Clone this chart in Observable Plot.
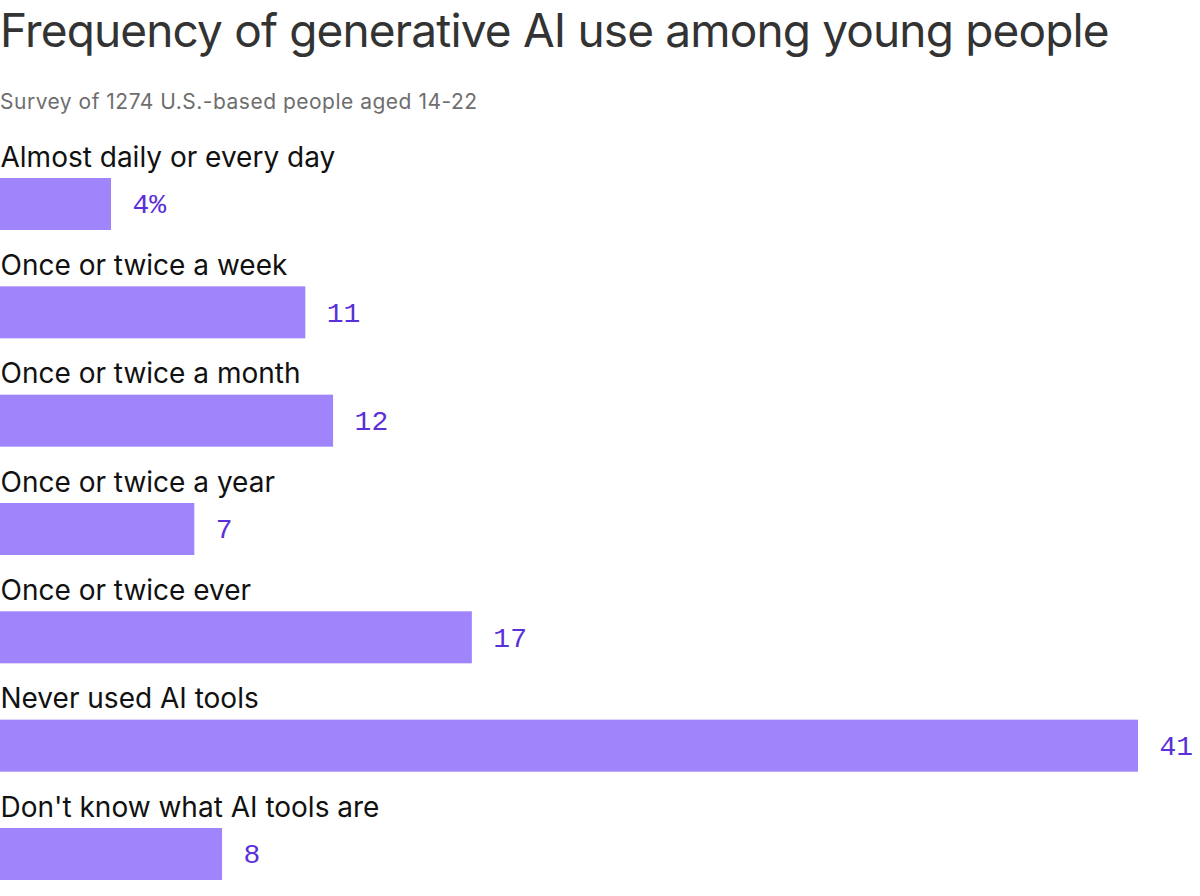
<!DOCTYPE html>
<html>
<head>
<meta charset="utf-8">
<script src="https://cdn.jsdelivr.net/npm/d3@7"></script>
<script src="https://cdn.jsdelivr.net/npm/@observablehq/plot@0.6"></script>
<style>
  body { margin: 0; background: #fff; font-family: Inter, "Liberation Sans", sans-serif; }
  #title { font-size: 46px; line-height: 60px; height: 62px; padding-top: 0px; box-sizing: border-box; color: #333; margin: 0; white-space: nowrap; letter-spacing: -0.85px; }
  #subtitle { font-size: 21px; line-height: 24px; height: 24px; margin-top: 28px; color: #6e6e6e; letter-spacing: 0.5px; white-space: nowrap; }
  #chart { margin-top: 6px; }
  svg { display: block; }
</style>
</head>
<body>
<div id="title">Frequency of generative AI use among young people</div>
<div id="subtitle">Survey of 1274 U.S.-based people aged 14-22</div>
<div id="chart"></div>
<script>
const categories = [
  "Almost daily or every day",
  "Once or twice a week",
  "Once or twice a month",
  "Once or twice a year",
  "Once or twice ever",
  "Never used AI tools",
  "Don't know what AI tools are"
];
const values = [4, 11, 12, 7, 17, 41, 8];
const valueLabels = ["4%", "11", "12", "7", "17", "41", "8"];

const data = categories.map((c, i) => ({category: c, value: values[i], label: valueLabels[i]}));

const chart = Plot.plot({
  width: 1200,
  height: 772,
  marginTop: 58,
  marginBottom: 12,
  marginLeft: 0,
  marginRight: 62,
  x: {domain: [0, d3.max(values)], axis: null},
  y: {domain: categories, axis: null, paddingInner: 0.52, paddingOuter: 0, round: false},
  marks: [
    Plot.barX(data, {x: "value", y: "category", fill: "#a084fc"}),
    Plot.text(data, {
      x: 0, y: "category", text: "category",
      textAnchor: "start", lineAnchor: "bottom", dy: -38, dx: 0,
      fontSize: 28, fill: "#111", fontFamily: "Inter, sans-serif"
    }),
    Plot.text(data, {
      x: "value", y: "category", text: "label",
      textAnchor: "start", dx: 21,
      fontSize: 28, fill: "#5a30d8", fontFamily: "'Liberation Mono', monospace"
    })
  ]
});
document.getElementById("chart").appendChild(chart);
</script>
</body>
</html>
